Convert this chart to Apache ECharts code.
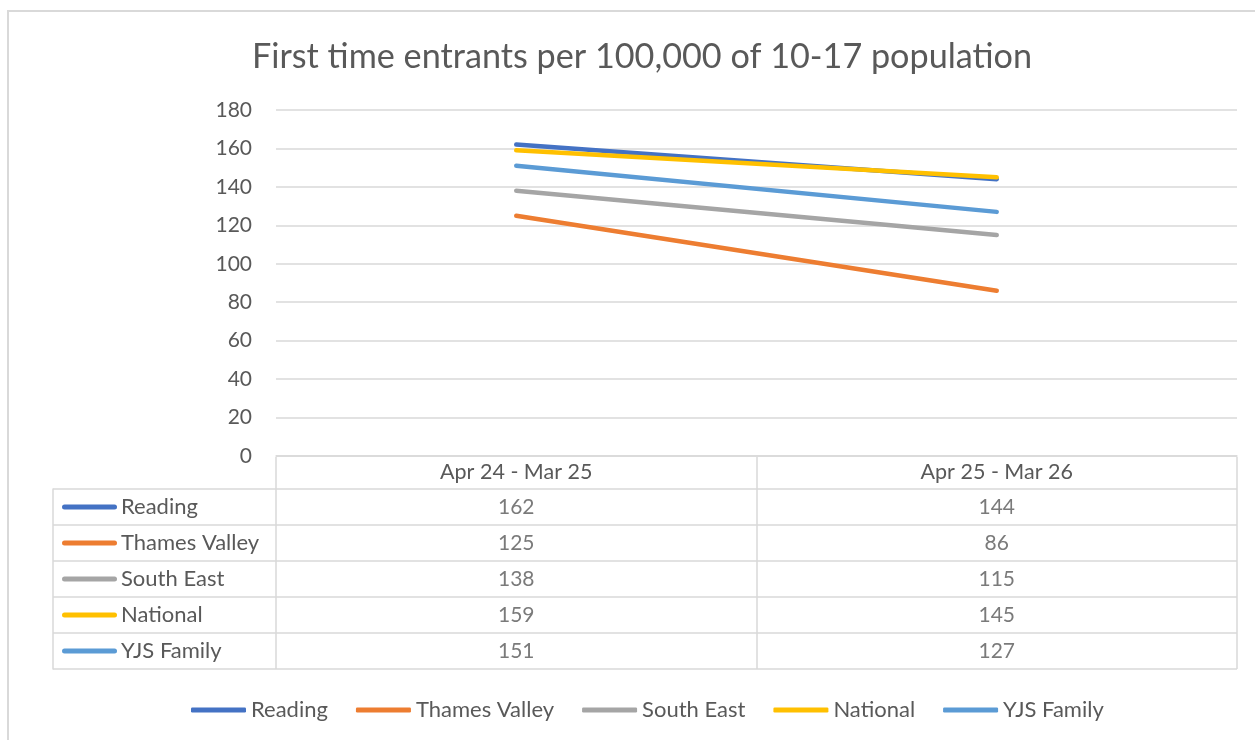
<!DOCTYPE html>
<html>
<head>
<meta charset="utf-8">
<script src="https://cdn.jsdelivr.net/npm/echarts@6/dist/echarts.min.js"></script>
<style>
  html, body { margin: 0; padding: 0; background: #fff; overflow: hidden; }
  #frame { position: absolute; left: 7px; top: 10px; width: 1400px; height: 900px; border: 2px solid #d9d9d9; box-sizing: border-box; }
  #chart { position: absolute; left: 0; top: 0; width: 1255px; height: 740px; }
</style>
</head>
<body>
<div id="frame"></div>
<div id="chart"></div>
<script>
// periods
var categories = ['Apr 24 - Mar 25', 'Apr 25 - Mar 26'];
// areas
var seriesNames = ['Reading', 'Thames Valley', 'South East', 'National', 'YJS Family'];
var reading = [162, 144];
var thamesValley = [125, 86];
var southEast = [138, 115];
var national = [159, 145];
var yjsFamily = [151, 127];
var yTicks = [0, 20, 40, 60, 80, 100, 120, 140, 160, 180];

var colors = ['#4472C4', '#ED7D31', '#A5A5A5', '#FFC000', '#5B9BD5'];
var allValues = [reading, thamesValley, southEast, national, yjsFamily];
var FONT = 'Lato';
var TXT = '#595959';
var GRID = '#d9d9d9';

var myChart = echarts.init(document.getElementById('chart'), null, { renderer: 'canvas' });

var seriesArr = [];
for (let i = 0; i < seriesNames.length; i++) {
  seriesArr.push({
    name: seriesNames[i],
    type: 'line',
    xAxisIndex: 0,
    yAxisIndex: 0,
    symbol: 'none',
    lineStyle: { width: 4.5, color: colors[i], cap: 'round' },
    itemStyle: { color: colors[i] },
    data: allValues[i]
  });
}

// table cells
var cellData = [];
for (let i = 0; i < seriesNames.length; i++) {
  for (let j = 0; j < categories.length; j++) {
    cellData.push([categories[j], seriesNames[i], allValues[i][j]]);
  }
}
seriesArr.push({
  type: 'scatter',
  xAxisIndex: 1,
  yAxisIndex: 1,
  symbolSize: 0,
  silent: true,
  label: {
    show: true,
    position: 'inside',
    color: TXT,
    fontFamily: FONT,
    fontSize: 21,
    formatter: function (p) { return p.value[2]; }
  },
  data: cellData
});

var rich = { t: { color: TXT, fontFamily: FONT, fontSize: 22, padding: [0, 0, 0, 4] } };
for (let i = 0; i < colors.length; i++) {
  rich['b' + i] = { width: 55, height: 5, backgroundColor: colors[i], borderRadius: 3 };
}

var option = {
  animation: false,
  title: {
    text: 'First time entrants per 100,000 of 10-17 population',
    left: 247,
    top: 35,
    textStyle: { color: TXT, fontFamily: FONT, fontSize: 34.2, fontWeight: 'normal' }
  },
  legend: {
    data: seriesNames,
    bottom: 14,
    left: 186,
    icon: 'roundRect',
    itemWidth: 55,
    itemHeight: 5,
    itemGap: 28,
    textStyle: { color: TXT, fontFamily: FONT, fontSize: 22 }
  },
  grid: [
    { left: 276, right: 18, top: 110, height: 346 },  // plot
    { left: 276, right: 18, top: 489, height: 180 },  // table values
    { left: 276, right: 18, top: 457, height: 32 },   // table header
    { left: 53, width: 223, top: 489, height: 180 }   // table names
  ],
  xAxis: [
    {
      gridIndex: 0, type: 'category', data: categories, boundaryGap: true,
      axisLine: { lineStyle: { color: GRID, width: 1.5 } },
      axisTick: { show: false },
      axisLabel: { color: TXT, fontFamily: FONT, fontSize: 21.5, margin: 5 }
    },
    {
      gridIndex: 1, type: 'category', data: categories, boundaryGap: true,
      axisLine: { show: false }, axisTick: { show: false }, axisLabel: { show: false },
      splitLine: { show: true, lineStyle: { color: GRID, width: 1.5 } }
    },
    {
      gridIndex: 2, type: 'category', data: categories, boundaryGap: true,
      axisLine: { show: false }, axisTick: { show: false }, axisLabel: { show: false },
      splitLine: { show: true, lineStyle: { color: GRID, width: 1.5 } }
    },
    {
      gridIndex: 3, type: 'value', show: false
    }
  ],
  yAxis: [
    {
      gridIndex: 0, type: 'value', min: 0, max: 180, interval: 20,
      axisLine: { show: false }, axisTick: { show: false },
      axisLabel: {
        color: TXT, fontFamily: FONT, fontSize: 21, margin: 24,
        customValues: yTicks
      },
      splitLine: { lineStyle: { color: GRID, width: 1.5 } }
    },
    {
      gridIndex: 1, type: 'category', data: seriesNames, inverse: true,
      axisLine: { show: false }, axisTick: { show: false }, axisLabel: { show: false },
      splitLine: { show: true, lineStyle: { color: GRID, width: 1.5 } }
    },
    {
      gridIndex: 2, type: 'value', show: false
    },
    {
      gridIndex: 3, type: 'category', data: seriesNames, inverse: true,
      axisLine: { show: true, lineStyle: { color: GRID, width: 1.5 } },
      axisTick: { show: false },
      axisLabel: {
        inside: true, margin: 9, align: 'left',
        formatter: function (v, idx) { return '{b' + idx + '|}{t|' + v + '}'; },
        rich: rich
      },
      splitLine: { show: true, lineStyle: { color: GRID, width: 1.5 } }
    }
  ],
  series: seriesArr
};
myChart.setOption(option);
</script>
</body>
</html>
